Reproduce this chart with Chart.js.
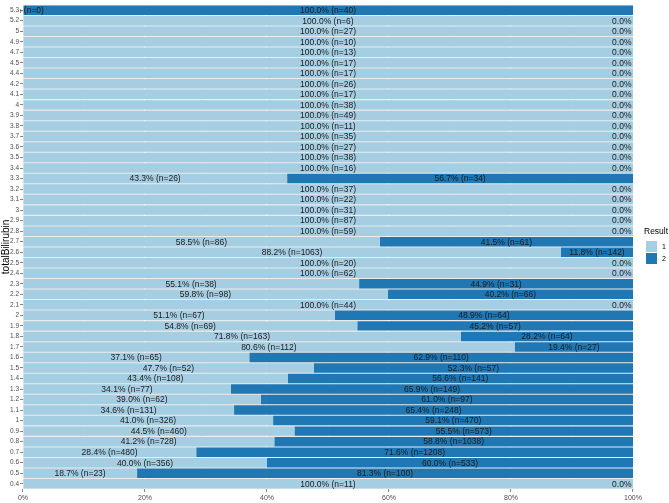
<!DOCTYPE html>
<html lang="en">
<head>
  <meta charset="UTF-8" />
  <title>totalBilirubin vs Result</title>
  <script src="https://cdn.jsdelivr.net/npm/chart.js"></script>
  <style>
    body {
      margin: 0;
      background: #ffffff;
    }
    .chart-wrapper {
      width: 669px;
      height: 503px;
    }
  </style>
</head>
<body>
<div class="chart-wrapper"><canvas id="chart"></canvas></div>

<script>
  // categorias de baixo para cima
  const categories = ['0.4', '0.5', '0.6', '0.7', '0.8', '0.9',
    '1', '1.1', '1.2', '1.3', '1.4', '1.5', '1.6', '1.7', '1.8', '1.9',
    '2', '2.1', '2.2', '2.3', '2.4', '2.5', '2.6', '2.7', '2.8', '2.9',
    '3', '3.1', '3.2', '3.3', '3.4', '3.5', '3.6', '3.7', '3.8', '3.9',
    '4', '4.1', '4.2', '4.4', '4.5', '4.7', '4.9', '5', '5.2', '5.3'];

  const pctResult1 = [100.0, 18.7, 40.0, 28.4, 41.2, 44.5,
    41.0, 34.6, 39.0, 34.1, 43.4, 47.7, 37.1, 80.6, 71.8, 54.8,
    51.1, 100.0, 59.8, 55.1, 100.0, 100.0, 88.2, 58.5, 100.0, 100.0,
    100.0, 100.0, 100.0, 43.3, 100.0, 100.0, 100.0, 100.0, 100.0, 100.0,
    100.0, 100.0, 100.0, 100.0, 100.0, 100.0, 100.0, 100.0, 100.0, 0.0];
  const nResult1 = [11, 23, 356, 480, 728, 460,
    326, 131, 62, 77, 108, 52, 65, 112, 163, 69,
    67, 44, 98, 38, 62, 20, 1063, 86, 59, 87,
    31, 22, 37, 26, 16, 38, 27, 35, 11, 49,
    38, 17, 26, 17, 17, 13, 10, 27, 6, 0];

  const pctResult2 = [0.0, 81.3, 60.0, 71.6, 58.8, 55.5,
    59.1, 65.4, 61.0, 65.9, 56.6, 52.3, 62.9, 19.4, 28.2, 45.2,
    48.9, 0.0, 40.2, 44.9, 0.0, 0.0, 11.8, 41.5, 0.0, 0.0,
    0.0, 0.0, 0.0, 56.7, 0.0, 0.0, 0.0, 0.0, 0.0, 0.0,
    0.0, 0.0, 0.0, 0.0, 0.0, 0.0, 0.0, 0.0, 0.0, 100.0];
  const nResult2 = [0, 100, 533, 1208, 1038, 573,
    470, 248, 97, 149, 141, 57, 110, 27, 64, 57,
    64, 0, 66, 31, 0, 0, 142, 61, 0, 0,
    0, 0, 0, 34, 0, 0, 0, 0, 0, 0,
    0, 0, 0, 0, 0, 0, 0, 0, 0, 40];

  const resultLabels = ['1', '2'];
  const colors = ['#A6CEE3', '#1F78B4'];
  const fontFamily = '"Liberation Sans", Arial, sans-serif';

  // fundo cinza do painel
  const panelBackground = {
    id: 'panelBackground',
    beforeDraw(chart) {
      const { ctx, chartArea } = chart;
      ctx.save();
      ctx.fillStyle = '#EBEBEB';
      ctx.fillRect(chartArea.left, chartArea.top, chartArea.right - chartArea.left, chartArea.bottom - chartArea.top);
      ctx.restore();
    },
  };

  // rótulos "xx.x% (n=..)" no centro de cada segmento
  const segmentLabels = {
    id: 'segmentLabels',
    afterDatasetsDraw(chart) {
      const { ctx, chartArea } = chart;
      const xScale = chart.scales.x;
      const yScale = chart.scales.y;
      const pcts = [pctResult1, pctResult2];
      const counts = [nResult1, nResult2];
      ctx.save();
      ctx.beginPath();
      ctx.rect(chartArea.left - 3, chartArea.top, chartArea.right - chartArea.left + 3, chartArea.bottom - chartArea.top);
      ctx.clip();
      ctx.font = '8.5px ' + fontFamily;
      ctx.fillStyle = '#1a1a1a';
      ctx.textAlign = 'center';
      ctx.textBaseline = 'middle';
      categories.forEach((cat, i) => {
        let start = 0;
        pcts.forEach((p, d) => {
          const center = start + p[i] / 2;
          start += p[i];
          const text = p[i].toFixed(1) + '% (n=' + counts[d][i] + ')';
          ctx.fillText(text, xScale.getPixelForValue(center), yScale.getPixelForValue(i) + 0.5);
        });
      });
      ctx.restore();
    },
  };

  // legenda desenhada à direita
  const sideLegend = {
    id: 'sideLegend',
    afterDraw(chart) {
      const ctx = chart.ctx;
      ctx.save();
      ctx.fillStyle = '#000';
      ctx.font = '8.5px ' + fontFamily;
      ctx.textAlign = 'left';
      ctx.textBaseline = 'middle';
      ctx.fillText('Result', 644, 232);
      resultLabels.forEach((lbl, k) => {
        const top = 241 + k * 12;
        ctx.fillStyle = colors[k];
        ctx.fillRect(646, top, 11, 11);
        ctx.fillStyle = '#000';
        ctx.font = '7px ' + fontFamily;
        ctx.fillText(lbl, 662, top + 6);
      });
      ctx.restore();
    },
  };

  new Chart(document.getElementById('chart'), {
    type: 'bar',
    data: {
      labels: categories,
      datasets: [
        { label: resultLabels[0], data: pctResult1, backgroundColor: colors[0], borderWidth: 0, barPercentage: 0.9, categoryPercentage: 1 },
        { label: resultLabels[1], data: pctResult2, backgroundColor: colors[1], borderWidth: 0, barPercentage: 0.9, categoryPercentage: 1 },
      ],
    },
    options: {
      indexAxis: 'y',
      responsive: true,
      maintainAspectRatio: false,
      animation: false,
      devicePixelRatio: 1,
      layout: { padding: { top: 0, right: 36, bottom: 0, left: 0 } },
      plugins: {
        legend: { display: false },
        tooltip: { enabled: false },
      },
      scales: {
        x: {
          stacked: true,
          min: 0,
          max: 100,
          border: { display: false },
          afterFit(scale) { scale.height = 14; },
          ticks: {
            stepSize: 10,
            autoSkip: false,
            maxRotation: 0,
            padding: 2,
            color: '#4D4D4D',
            font: { size: 7, family: fontFamily },
            callback: (v) => (v % 20 === 0 ? v + '%' : ''),
          },
          grid: {
            color: '#ffffff',
            lineWidth: (c) => (c.tick && c.tick.value % 20 === 0 ? 1.1 : 0.5),
            tickColor: (c) => (c.tick && c.tick.value % 20 === 0 ? '#333333' : 'rgba(0,0,0,0)'),
            tickLength: 3,
            tickWidth: 0.6,
          },
        },
        y: {
          stacked: true,
          reverse: true,
          border: { display: false },
          afterFit(scale) { scale.width = 23; },
          title: {
            display: true,
            text: 'totalBilirubin',
            color: '#000',
            padding: 0,
            font: { size: 10, family: fontFamily },
          },
          ticks: {
            autoSkip: false,
            padding: 1,
            color: '#4D4D4D',
            font: { size: 6.5, family: fontFamily },
          },
          grid: {
            offset: false,
            drawOnChartArea: false,
            tickColor: '#333333',
            tickLength: 3,
            tickWidth: 0.6,
          },
        },
      },
    },
    plugins: [panelBackground, segmentLabels, sideLegend],
  });
</script>
</body>
</html>
